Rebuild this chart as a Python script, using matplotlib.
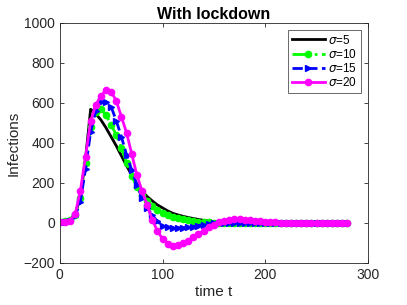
import numpy as np
import matplotlib
matplotlib.use('Agg')
import matplotlib.pyplot as plt

plt.rcParams['font.family'] = ['Liberation Sans', 'DejaVu Sans']
plt.rcParams['mathtext.fontset'] = 'dejavusans'

# time grid
t = np.arange(0, 281, 5)

# infections for each sigma (t = 0, 5, ..., 280)
sigma5 = [5, 8, 15, 45, 130, 320, 568, 545, 515, 475, 430, 385, 335, 285, 240,
          195, 160, 132, 110, 90, 75, 60, 48, 40, 33, 27, 22, 17, 13, 10, 7, 5,
          4, 3, 2, 1, 1, 0, 0, 0, 0, 0, 0, 0, 0, 0, 0, 0, 0, 0, 0, 0, 0, 0, 0,
          0, 0]
sigma10 = [5, 8, 14, 42, 125, 300, 480, 555, 570, 540, 490, 440, 375, 300,
           235, 180, 140, 110, 85, 65, 50, 38, 30, 24, 18, 14, 10, 7, 5, 3, 2,
           1, 0, 0, 0, 0, 0, 0, 0, 0, 0, 0, 0, 0, 0, 0, 0, 0, 0, 0, 0, 0, 0, 0,
           0, 0, 0]
sigma15 = [5, 7, 12, 35, 105, 270, 455, 560, 605, 605, 580, 510, 430, 340,
           265, 190, 125, 75, 38, 8, -15, -22, -25, -25, -24, -22, -18, -13,
           -8, -4, -1, 0, 1, 1, 0, -1, -2, -2, -2, -2, -2, -2, -1, -1, -1, -1,
           -1, -1, -1, 0, 0, 0, 0, 0, 0, 0, 0]
sigma20 = [5, 7, 12, 45, 160, 330, 510, 590, 635, 665, 655, 610, 530, 450,
           345, 240, 160, 90, 15, -40, -80, -105, -115, -112, -100, -88, -72,
           -55, -38, -22, -8, 3, 10, 15, 18, 18, 17, 15, 12, 9, 7, 5, 3, 2, 1,
           1, 0, 0, 0, 0, 0, 0, 0, 0, 0, 0, 0]

fig = plt.figure(figsize=(4.07, 3.05), dpi=100)
ax = fig.add_axes([0.147, 0.138, 0.757, 0.787])

ax.plot(t, sigma5, '-', color='black', lw=2, label=r'$\sigma$=5')
ax.plot(t, sigma10, '-.', color='#00ff00', lw=2, marker='o', ms=4.5,
        label=r'$\sigma$=10')
ax.plot(t, sigma15, '--', color='blue', lw=2, marker='>', ms=4.5,
        label=r'$\sigma$=15')
ax.plot(t, sigma20, '-', color='magenta', lw=2, marker='o', ms=4.5,
        label=r'$\sigma$=20')

ax.set_xlim(0, 300)
ax.set_ylim(-200, 1000)
ax.set_xticks([0, 100, 200, 300])
ax.set_yticks(np.arange(-200, 1001, 200))

grey = '#262626'
for s in ax.spines.values():
    s.set_color(grey)
    s.set_linewidth(0.6)
ax.tick_params(direction='in', top=True, right=True, colors=grey,
               labelsize=10, length=3, width=0.6)

ax.set_xlabel('time t', fontsize=11, color=grey, labelpad=2)
ax.set_ylabel('Infections', fontsize=11, color=grey, labelpad=2)
ax.set_title('With lockdown', fontsize=11.5, fontweight='bold', pad=3)

leg = ax.legend(loc='upper right', fontsize=8.5, fancybox=False,
                borderpad=0.3, labelspacing=0.1, handlelength=2.8,
                handletextpad=0.3, borderaxespad=0.6)
leg.get_frame().set_edgecolor(grey)
leg.get_frame().set_linewidth(0.6)

fig.savefig('out.png', dpi=100)
